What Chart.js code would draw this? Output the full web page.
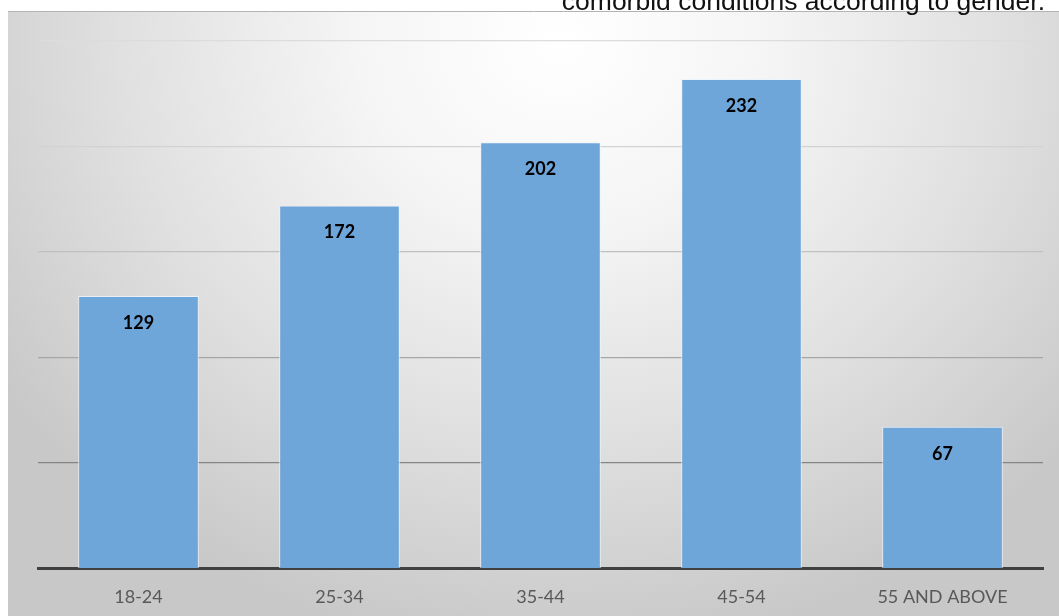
<!DOCTYPE html>
<html>
<head>
<meta charset="utf-8">
<script src="https://cdn.jsdelivr.net/npm/chart.js@4.4.1/dist/chart.umd.min.js"></script>
<style>
  html, body { margin: 0; padding: 0; background: #ffffff; overflow: hidden; }
  #wrap { position: relative; width: 1059px; height: 616px; }
  #c { position: absolute; left: 0; top: 0; }
  #caption {
    position: absolute; right: 14px; top: -14px;
    font-family: "Liberation Sans", Arial, sans-serif; font-size: 26.5px;
    color: #111; white-space: nowrap; line-height: 30px; z-index: 2;
  }
</style>
</head>
<body>
<div id="wrap">
  <div id="caption">comorbid conditions according to gender.</div>
  <canvas id="c" width="1059" height="616"></canvas>
</div>
<script>
const categories = ["18-24", "25-34", "35-44", "45-54", "55 AND ABOVE"];
const values = [129, 172, 202, 232, 67];
const yTicks = [0, 50, 100, 150, 200, 250];
const gridColors = {0: "#404040", 50: "#858585", 100: "#a6a6a6", 150: "#c0c0c0", 200: "#d2d2d2", 250: "#dcdcdc"};

const bgPlugin = {
  id: "bg",
  beforeDraw(chart) {
    const ctx = chart.ctx;
    ctx.save();
    const x0 = 8, y0 = 11, x1 = 1059, y1 = 616;
    const cx = 560, cy = 40, sy = 0.9;
    ctx.translate(cx, cy);
    ctx.scale(1, sy);
    const g = ctx.createRadialGradient(0, 0, 0, 0, 0, 680);
    g.addColorStop(0, "#ffffff");
    g.addColorStop(0.3, "#f5f5f5");
    g.addColorStop(0.65, "#e0e0e0");
    g.addColorStop(1, "#c8c8c8");
    ctx.fillStyle = g;
    ctx.fillRect(x0 - cx, (y0 - cy) / sy, x1 - x0, (y1 - y0) / sy);
    ctx.restore();
    ctx.save();
    ctx.strokeStyle = "#b4b4b4";
    ctx.lineWidth = 1;
    ctx.beginPath();
    ctx.moveTo(x0, y0 + 0.5);
    ctx.lineTo(x1, y0 + 0.5);
    ctx.stroke();
    ctx.restore();
  }
};

const labelPlugin = {
  id: "valueLabels",
  afterDatasetsDraw(chart) {
    const ctx = chart.ctx;
    const meta = chart.getDatasetMeta(0);
    ctx.save();
    ctx.font = "bold 18px Lato, 'Open Sans', sans-serif";
    ctx.fillStyle = "#000000";
    ctx.textAlign = "center";
    ctx.textBaseline = "middle";
    meta.data.forEach((bar, i) => {
      ctx.fillText(String(values[i]), bar.x, bar.y + 27);
    });
    ctx.restore();
  }
};

new Chart(document.getElementById("c"), {
  type: "bar",
  data: {
    labels: categories,
    datasets: [{
      data: values,
      backgroundColor: "#6fa6da",
      borderColor: "rgba(235,243,251,0.9)",
      borderWidth: 1,
      borderSkipped: "bottom",
      barPercentage: 0.6,
      categoryPercentage: 1.0
    }]
  },
  options: {
    responsive: false,
    animation: false,
    devicePixelRatio: 1,
    layout: { padding: { left: 38, right: 16, top: 41, bottom: 0 } },
    plugins: { legend: { display: false }, tooltip: { enabled: false } },
    scales: {
      x: {
        grid: { display: false },
        border: { display: true, color: "#404040", width: 3 },
        ticks: { color: "#595959", font: { family: "Lato, 'Open Sans', sans-serif", size: 18 }, padding: 10 },
        afterFit(scale) { scale.height = 48; }
      },
      y: {
        min: 0, max: 250,
        afterBuildTicks(scale) { scale.ticks = yTicks.map(v => ({ value: v })); },
        ticks: { display: false },
        border: { display: false },
        grid: {
          drawTicks: false,
          color: ctx => gridColors[ctx.tick.value] || "#cccccc",
          lineWidth: ctx => ctx.tick.value === 0 ? 0 : 1.2
        },
        afterFit(scale) { scale.width = 0; }
      }
    }
  },
  plugins: [bgPlugin, labelPlugin]
});
</script>
</body>
</html>
